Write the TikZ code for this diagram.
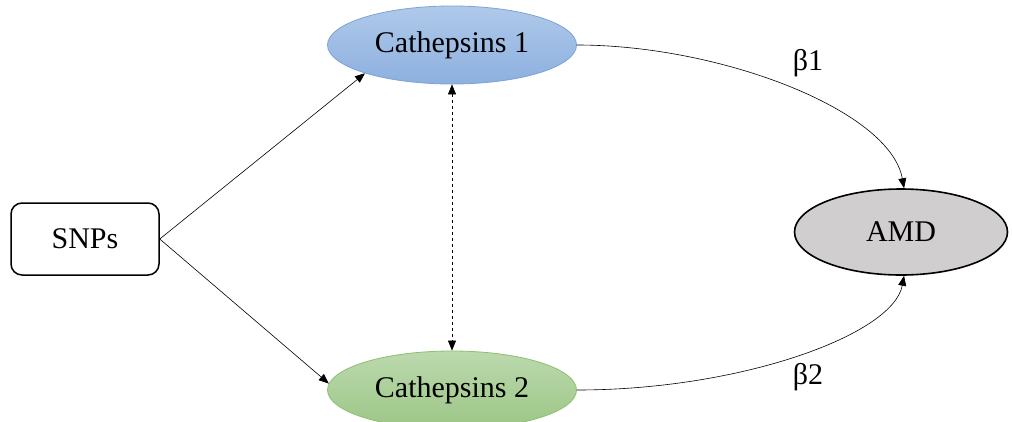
\documentclass[tikz,border=0pt]{standalone}
\usepackage{fontspec}
\setmainfont{Liberation Serif}
\usetikzlibrary{shapes.geometric,arrows.meta}
\definecolor{blueT}{HTML}{AFC9EA}
\definecolor{blueB}{HTML}{8DB0DF}
\definecolor{blueE}{HTML}{7BA3D6}
\definecolor{greenT}{HTML}{BCD9AE}
\definecolor{greenB}{HTML}{9CC686}
\definecolor{greenE}{HTML}{8CBF6F}
\definecolor{amdfill}{HTML}{D0CECE}
\tikzset{
  lbl/.style={font=\fontsize{30}{34}\selectfont},
  cath/.style={ellipse, minimum width=249pt, minimum height=78pt, inner sep=0pt, line width=0.8pt, lbl},
  conn/.style={line width=0.6pt, -{Triangle[length=10pt,width=8pt]}},
}
\begin{document}
\begin{tikzpicture}[x=1pt,y=-1pt]
\useasboundingbox (0,0) rectangle (1012,421);
\node[cath, draw=blueE, top color=blueT, bottom color=blueB] (c1) at (452,45) {Cathepsins 1};
\node[cath, draw=greenE, top color=greenT, bottom color=greenB] (c2) at (452,390) {Cathepsins 2};
\node[draw=black, line width=1.5pt, rounded corners=11pt, minimum width=148pt, minimum height=72pt, inner sep=0pt, lbl] (snp) at (85,239) {SNPs};
\node[ellipse, draw=black, line width=1.6pt, fill=amdfill, minimum width=213pt, minimum height=86pt, inner sep=0pt, lbl] (amd) at (901,232) {AMD};
\draw[conn] (snp.east) -- (c1.198);
\draw[conn] (snp.east) -- (c2.177);
\draw[line width=0.6pt, dashed, {Triangle[length=10pt,width=8pt]}-{Triangle[length=10pt,width=8pt]}] (c1.south) -- (c2.north);
\draw[conn] (c1.east) .. controls (720,45) and (890,110) .. (amd.86);
\draw[conn] (c2.east) .. controls (740,390) and (893,335) .. (amd.274);
\node[lbl] (b1) at (808,63) {β1};
\node[lbl] (b2) at (808,377) {β2};
\end{tikzpicture}
\end{document}
